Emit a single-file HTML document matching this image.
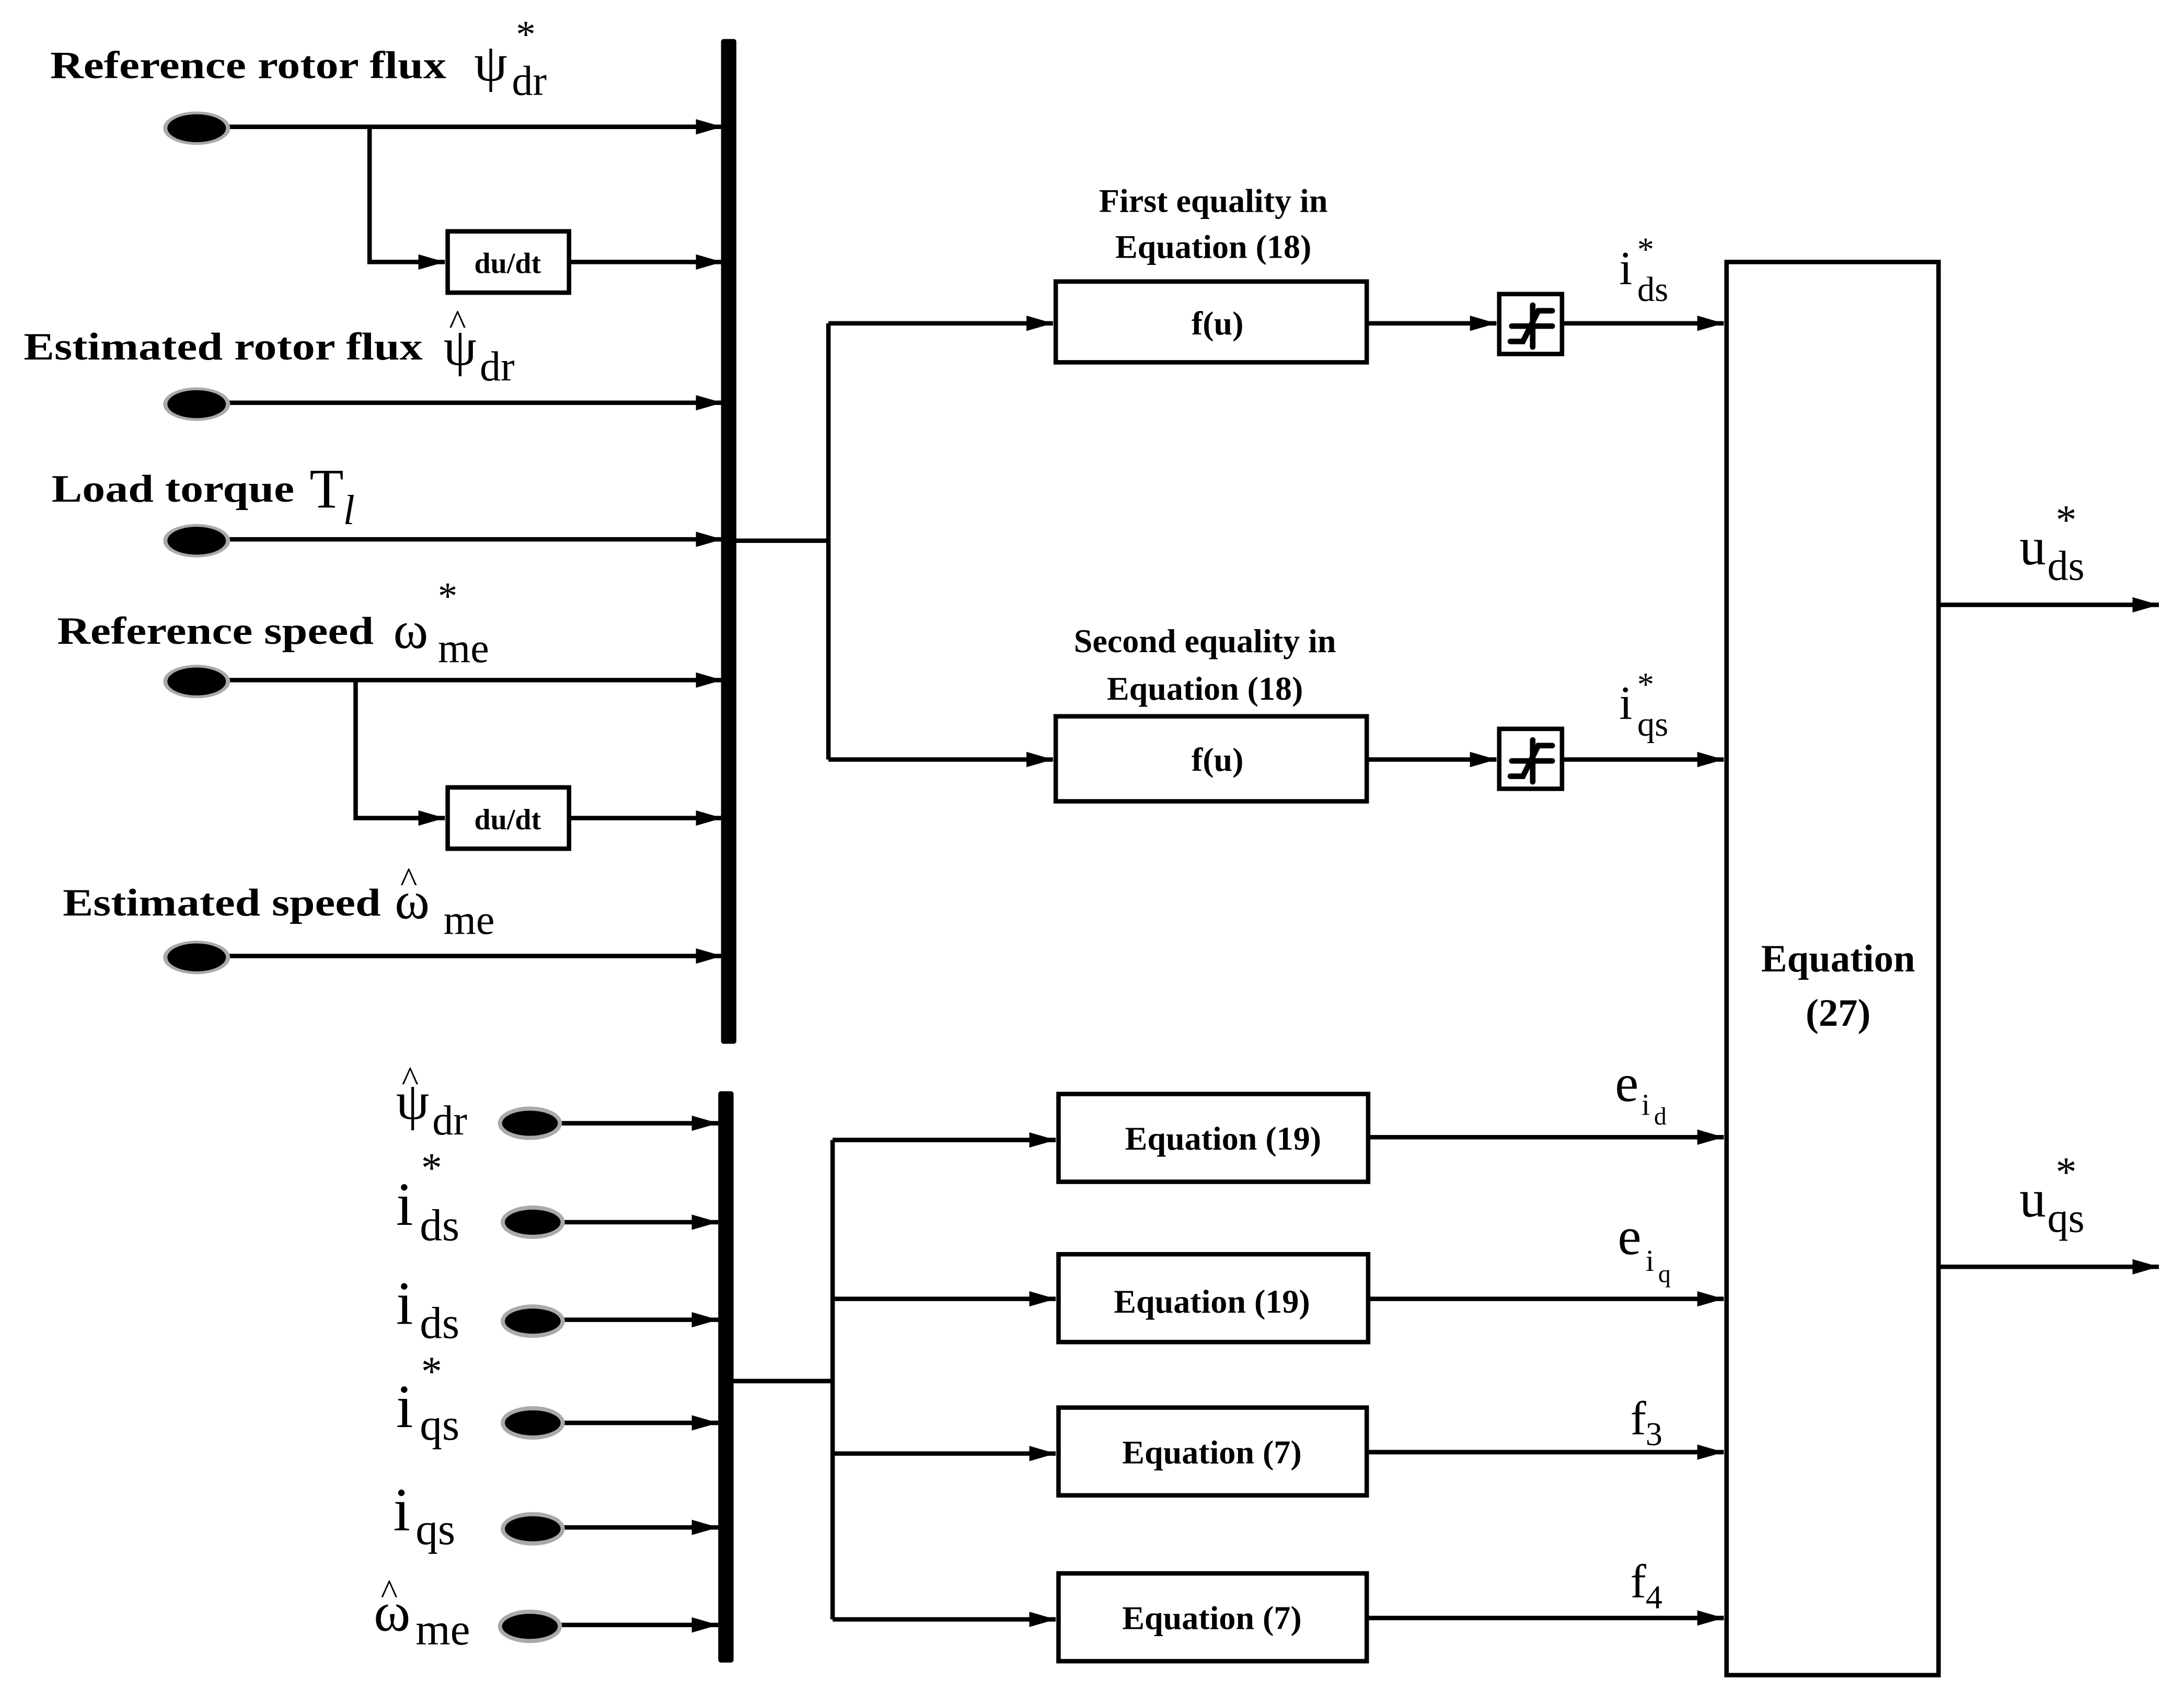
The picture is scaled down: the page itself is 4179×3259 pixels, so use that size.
<!DOCTYPE html>
<html><head><meta charset="utf-8"><style>
html,body{margin:0;padding:0;background:#fff;}
svg{display:block;}
.b{font-family:"Liberation Serif",serif;font-weight:bold;}
.m{font-family:"Liberation Serif",serif;}
</style></head><body>
<svg width="4179" height="3259" viewBox="0 0 1566 1222" preserveAspectRatio="none" xmlns="http://www.w3.org/2000/svg">
<defs>
<marker id="ah" viewBox="0 0 10 10" refX="10" refY="5" markerWidth="19" markerHeight="11" markerUnits="userSpaceOnUse" orient="auto" preserveAspectRatio="none"><path d="M0,0 L10,5 L0,10 z" fill="#000"/></marker>
<g id="blob"><ellipse cx="0" cy="0" rx="24" ry="12" fill="#aaa"/><ellipse cx="0" cy="0" rx="21" ry="10" fill="#000"/></g>
<g id="blob2"><ellipse cx="0" cy="0" rx="23" ry="12" fill="#aaa"/><ellipse cx="0" cy="0" rx="20" ry="9" fill="#000"/></g>
</defs>
<rect width="1566" height="1222" fill="#fff"/>
<g stroke="#000" stroke-width="3.2" fill="none">
<line x1="160" y1="91" x2="518" y2="91" marker-end="url(#ah)"/>
<polyline points="265,91 265,188 319,188" marker-end="url(#ah)"/>
<line x1="408" y1="188" x2="518" y2="188" marker-end="url(#ah)"/>
<line x1="160" y1="289" x2="518" y2="289" marker-end="url(#ah)"/>
<line x1="160" y1="387" x2="518" y2="387" marker-end="url(#ah)"/>
<line x1="160" y1="488" x2="518" y2="488" marker-end="url(#ah)"/>
<polyline points="255,488 255,587 319,587" marker-end="url(#ah)"/>
<line x1="408" y1="587" x2="518" y2="587" marker-end="url(#ah)"/>
<line x1="160" y1="686" x2="518" y2="686" marker-end="url(#ah)"/>
<rect x="321" y="166" width="87" height="44"/>
<rect x="321" y="565" width="87" height="44"/>
<polyline points="527,388 594,388"/>
<line x1="594" y1="232" x2="594" y2="545"/>
<line x1="594" y1="232" x2="755" y2="232" marker-end="url(#ah)"/>
<line x1="594" y1="545" x2="755" y2="545" marker-end="url(#ah)"/>
<rect x="757" y="202" width="223" height="58"/>
<rect x="757" y="514" width="223" height="61"/>
<line x1="980" y1="232" x2="1073" y2="232" marker-end="url(#ah)"/>
<line x1="980" y1="545" x2="1073" y2="545" marker-end="url(#ah)"/>
<rect x="1075" y="211" width="45" height="43"/>
<rect x="1075" y="523" width="45" height="43"/>
<line x1="1120" y1="232" x2="1236" y2="232" marker-end="url(#ah)"/>
<line x1="1120" y1="545" x2="1236" y2="545" marker-end="url(#ah)"/>
<rect x="1238" y="188" width="152" height="1014"/>
<line x1="1390" y1="434" x2="1548" y2="434" marker-end="url(#ah)"/>
<line x1="1390" y1="909" x2="1548" y2="909" marker-end="url(#ah)"/>
<line x1="395" y1="806" x2="515" y2="806" marker-end="url(#ah)"/>
<line x1="398" y1="877" x2="515" y2="877" marker-end="url(#ah)"/>
<line x1="398" y1="947" x2="515" y2="947" marker-end="url(#ah)"/>
<line x1="398" y1="1021" x2="515" y2="1021" marker-end="url(#ah)"/>
<line x1="398" y1="1096" x2="515" y2="1096" marker-end="url(#ah)"/>
<line x1="395" y1="1166" x2="515" y2="1166" marker-end="url(#ah)"/>
<line x1="525" y1="991" x2="597" y2="991"/>
<line x1="597" y1="818" x2="597" y2="1162"/>
<line x1="597" y1="818" x2="757" y2="818" marker-end="url(#ah)"/>
<line x1="597" y1="932" x2="757" y2="932" marker-end="url(#ah)"/>
<line x1="597" y1="1043" x2="757" y2="1043" marker-end="url(#ah)"/>
<line x1="597" y1="1162" x2="757" y2="1162" marker-end="url(#ah)"/>
<rect x="759" y="785" width="222" height="63"/>
<rect x="759" y="900" width="222" height="63"/>
<rect x="759" y="1010" width="221" height="63"/>
<rect x="759" y="1129" width="221" height="63"/>
<line x1="981" y1="816" x2="1236" y2="816" marker-end="url(#ah)"/>
<line x1="981" y1="932" x2="1236" y2="932" marker-end="url(#ah)"/>
<line x1="980" y1="1042" x2="1236" y2="1042" marker-end="url(#ah)"/>
<line x1="980" y1="1161" x2="1236" y2="1161" marker-end="url(#ah)"/>
</g>
<g stroke="#000" stroke-width="4" stroke-linecap="round" fill="none">
<path d="M1083,245 H1092 L1103,223 H1113 M1084,234 H1113 M1099,219 V249"/>
<path d="M1083,557 H1092 L1103,535 H1113 M1084,546 H1113 M1099,531 V561"/>
</g>
<rect x="517" y="28" width="11" height="721" rx="2" fill="#000"/>
<rect x="515" y="783" width="11" height="410" rx="2" fill="#000"/>
<use href="#blob" x="141" y="92"/><use href="#blob" x="141" y="290"/><use href="#blob" x="141" y="388"/>
<use href="#blob" x="141" y="489"/><use href="#blob" x="141" y="687"/>
<use href="#blob2" x="380" y="806"/><use href="#blob2" x="382" y="877"/><use href="#blob2" x="382" y="948"/>
<use href="#blob2" x="382" y="1021"/><use href="#blob2" x="382" y="1097"/><use href="#blob2" x="380" y="1167"/>
<g class="b" font-size="28">
<text x="36" y="56" textLength="284" lengthAdjust="spacingAndGlyphs">Reference rotor flux</text>
<text x="17" y="258" textLength="286" lengthAdjust="spacingAndGlyphs">Estimated rotor flux</text>
<text x="37" y="360" textLength="174" lengthAdjust="spacingAndGlyphs">Load torque</text>
<text x="41" y="462" textLength="227" lengthAdjust="spacingAndGlyphs">Reference speed</text>
<text x="45" y="657" textLength="228" lengthAdjust="spacingAndGlyphs">Estimated speed</text>
</g>
<g class="b" font-size="24" text-anchor="middle">
<text x="870" y="152">First equality in</text>
<text x="870" y="185">Equation (18)</text>
<text x="864" y="468">Second equality in</text>
<text x="864" y="502">Equation (18)</text>
<text x="873" y="240">f(u)</text>
<text x="873" y="553">f(u)</text>
<text x="364" y="196" font-size="21">du/dt</text>
<text x="364" y="595" font-size="21">du/dt</text>
<text x="877" y="825">Equation (19)</text>
<text x="869" y="942">Equation (19)</text>
<text x="869" y="1050">Equation (7)</text>
<text x="869" y="1169">Equation (7)</text>
<text x="1318" y="697" font-size="28">Equation</text>
<text x="1318" y="736" font-size="28">(27)</text>
</g>
<g class="m" fill="#000">
<text x="340" y="58" font-size="38">ψ</text><text x="367" y="68" font-size="30">dr</text><text x="370" y="34" font-size="28">*</text>
<text x="318" y="262" font-size="38">ψ</text><text x="344" y="273" font-size="30">dr</text><text x="322" y="240" font-size="26">^</text>
<text x="222" y="364" font-size="40">T</text><text x="246" y="376" font-size="30" font-style="italic">l</text>
<text x="282" y="465" font-size="38">ω</text><text x="314" y="475" font-size="30">me</text><text x="314" y="437" font-size="28">*</text>
<text x="283" y="659" font-size="38">ω</text><text x="318" y="670" font-size="30">me</text><text x="287" y="640" font-size="26">^</text>
<text x="284" y="803" font-size="38">ψ</text><text x="310" y="814" font-size="30">dr</text><text x="288" y="783" font-size="26">^</text>
<text x="284" y="879" font-size="44">i</text><text x="301" y="890" font-size="32">ds</text><text x="302" y="848" font-size="30">*</text>
<text x="284" y="950" font-size="44">i</text><text x="301" y="960" font-size="32">ds</text>
<text x="284" y="1024" font-size="44">i</text><text x="301" y="1033" font-size="32">qs</text><text x="302" y="994" font-size="30">*</text>
<text x="282" y="1098" font-size="44">i</text><text x="298" y="1108" font-size="32">qs</text>
<text x="268" y="1170" font-size="40">ω</text><text x="298" y="1180" font-size="32">me</text><text x="273" y="1151" font-size="26">^</text>
<text x="1161" y="204" font-size="34">i</text><text x="1174" y="216" font-size="25">ds</text><text x="1174" y="187" font-size="24">*</text>
<text x="1161" y="516" font-size="34">i</text><text x="1174" y="528" font-size="25">qs</text><text x="1174" y="499" font-size="24">*</text>
<text x="1448" y="405" font-size="38">u</text><text x="1468" y="416" font-size="30">ds</text><text x="1474" y="383" font-size="30">*</text>
<text x="1448" y="873" font-size="38">u</text><text x="1468" y="884" font-size="30">qs</text><text x="1474" y="851" font-size="30">*</text>
<text x="1158" y="790" font-size="38">e</text><text x="1177" y="800" font-size="22">i</text><text x="1186" y="807" font-size="18">d</text>
<text x="1160" y="900" font-size="38">e</text><text x="1180" y="912" font-size="22">i</text><text x="1189" y="920" font-size="18">q</text>
<text x="1169" y="1029" font-size="34">f</text><text x="1180" y="1037" font-size="24">3</text>
<text x="1169" y="1146" font-size="34">f</text><text x="1180" y="1154" font-size="24">4</text>
</g>
</svg>
</body></html>
